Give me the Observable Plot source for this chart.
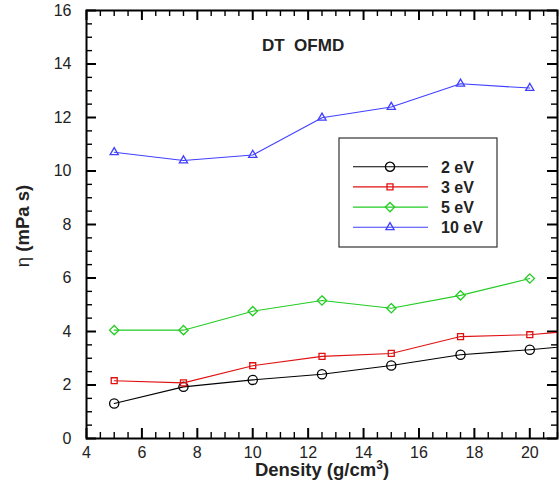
<!DOCTYPE html>
<html><head><meta charset="utf-8">
<script src="https://cdn.jsdelivr.net/npm/d3@7"></script>
<script src="https://cdn.jsdelivr.net/npm/@observablehq/plot@0.6"></script>
<style>
body{margin:0;background:#fff}
#chart{position:relative;width:559px;height:483px}
</style>
</head><body><div id="chart"></div>
<script>
// ---- data ----
const density    = [5, 7.5, 10, 12.5, 15, 17.5, 20];
const densityExt = [5, 7.5, 10, 12.5, 15, 17.5, 20, 22.5];
const eta2eV  = [1.31, 1.93, 2.19, 2.40, 2.73, 3.13, 3.32, 3.55];
const eta3eV  = [2.16, 2.08, 2.72, 3.07, 3.18, 3.81, 3.88, 4.10];
const eta5eV  = [4.05, 4.05, 4.76, 5.16, 4.87, 5.35, 5.98];
const eta10eV = [10.70, 10.39, 10.60, 11.99, 12.39, 13.26, 13.10];
const seriesNames   = ["2 eV", "3 eV", "5 eV", "10 eV"];
const seriesColors  = ["#000000", "#e01010", "#22cc22", "#4040ff"];
const seriesSymbols = ["circle", "square2", "diamond2", "triangle2"];
const seriesR       = [4.6, 3.8, 4.2, 3.9];
const xTickLabels = [4, 6, 8, 10, 12, 14, 16, 18, 20];
const yTickLabels = [0, 2, 4, 6, 8, 10, 12, 14, 16];
const xMinor = d3.range(4.5, 21.01, 0.5).filter(v => v % 2 !== 0);
const yMinor = d3.range(0.5, 16, 0.5).filter(v => v % 2 !== 0);
const titleText = "DT  OFMD";
const xTitle = "Density (g/cm";
const yTitleSym = "η";
const yTitleRest = "(mPa s)";

const seriesX = [densityExt, densityExt, density, density];
const seriesY = [eta2eV, eta3eV, eta5eV, eta10eV];
const seriesRows = seriesNames.map((name, k) =>
  seriesY[k].map((v, i) => ({x: seriesX[k][i], y: v, series: name})));

// layout
const W = 559, H = 483, mL = 86, mR = 2, mT = 10, mB = 45;
const xDom = [4, 21], yDom = [0, 16];
const pxPerX = (W - mL - mR) / (xDom[1] - xDom[0]);
const pxPerY = (H - mT - mB) / (yDom[1] - yDom[0]);

// inward ticks on all four sides as Plot rules (length given in pixels, converted to data units)
function tickRules(xs, ys, len, sw) {
  const dx = len / pxPerX, dy = len / pxPerY;
  const o = {stroke: "black", strokeWidth: sw};
  return [
    Plot.ruleX(xs, {...o, x: d => d, y1: yDom[0], y2: yDom[0] + dy}),
    Plot.ruleX(xs, {...o, x: d => d, y1: yDom[1] - dy, y2: yDom[1]}),
    Plot.ruleY(ys, {...o, y: d => d, x1: xDom[0], x2: xDom[0] + dx}),
    Plot.ruleY(ys, {...o, y: d => d, x1: xDom[1] - dx, x2: xDom[1]})
  ];
}

const chart = Plot.plot({
  width: W, height: H,
  marginLeft: mL, marginRight: mR, marginTop: mT, marginBottom: mB,
  x: {domain: xDom},
  y: {domain: yDom},
  style: {fontFamily: "'Liberation Sans', Arial, sans-serif", color: "#222", background: "white"},
  marks: [
    Plot.axisX(xTickLabels, {anchor: "bottom", tickSize: 0, tickPadding: 8, fontSize: 16, label: null}),
    Plot.axisY(yTickLabels, {anchor: "left", tickSize: 0, tickPadding: 15, fontSize: 16, label: null}),
    ...tickRules(xMinor, yMinor, 6, 1.4),
    ...tickRules(xTickLabels, yTickLabels, 10, 2),
    ...seriesRows.flatMap((rows, k) => [
      Plot.line(rows, {x: "x", y: "y", stroke: seriesColors[k], strokeWidth: 1.1, clip: true}),
      Plot.dot(rows, {x: "x", y: "y", symbol: seriesSymbols[k], r: seriesR[k], stroke: seriesColors[k],
                      strokeWidth: 1.3, fill: "none", clip: true})
    ]),
    Plot.frame({stroke: "black", strokeWidth: 2})
  ]
});
document.getElementById("chart").appendChild(chart);

// ---- annotations: title, axis titles, legend ----
const svg = d3.select(chart);
const ff = "'Liberation Sans', Arial, sans-serif";
svg.append("text").attr("x", 262).attr("y", 51).attr("text-anchor", "start").attr("font-family", ff)
  .attr("font-size", 17).attr("font-weight", "bold").attr("fill", "#222")
  .style("white-space", "pre").text(titleText);

const xt = svg.append("text").attr("x", 322).attr("y", 476).attr("text-anchor", "middle")
  .attr("font-family", ff).attr("font-size", 18.5).attr("font-weight", "bold").attr("fill", "#222");
xt.append("tspan").text(xTitle);
xt.append("tspan").attr("font-size", 12).attr("dy", -7).text("3");
xt.append("tspan").attr("dy", 7).text(")");

const yt = svg.append("text").attr("transform", "translate(29,226) rotate(-90)")
  .attr("text-anchor", "middle").attr("font-family", ff).attr("font-size", 18.5).attr("fill", "#222");
yt.append("tspan").text(yTitleSym + " ");
yt.append("tspan").attr("font-weight", "bold").text(yTitleRest);

const lg = svg.append("g").attr("transform", "translate(339,138)");
lg.append("rect").attr("width", 158).attr("height", 109).attr("fill", "white")
  .attr("stroke", "#333").attr("stroke-width", 1.2);
const sym = {circle: d3.symbolCircle, square2: d3.symbolSquare2, diamond2: d3.symbolDiamond2, triangle2: d3.symbolTriangle2};
seriesNames.forEach((name, k) => {
  const yy = 28.7 + k * 20.2;
  lg.append("line").attr("x1", 14).attr("x2", 89).attr("y1", yy).attr("y2", yy)
    .attr("stroke", seriesColors[k]).attr("stroke-width", 1.1);
  lg.append("path").attr("transform", `translate(51,${yy})`)
    .attr("d", d3.symbol(sym[seriesSymbols[k]], Math.PI * seriesR[k] ** 2)())
    .attr("fill", "none").attr("stroke", seriesColors[k]).attr("stroke-width", 1.3);
  lg.append("text").attr("x", 102).attr("y", yy + 6).attr("text-anchor", "start").attr("font-family", ff)
    .attr("font-size", 16).attr("font-weight", "bold").attr("fill", "#222").text(name);
});
</script>
</body></html>
